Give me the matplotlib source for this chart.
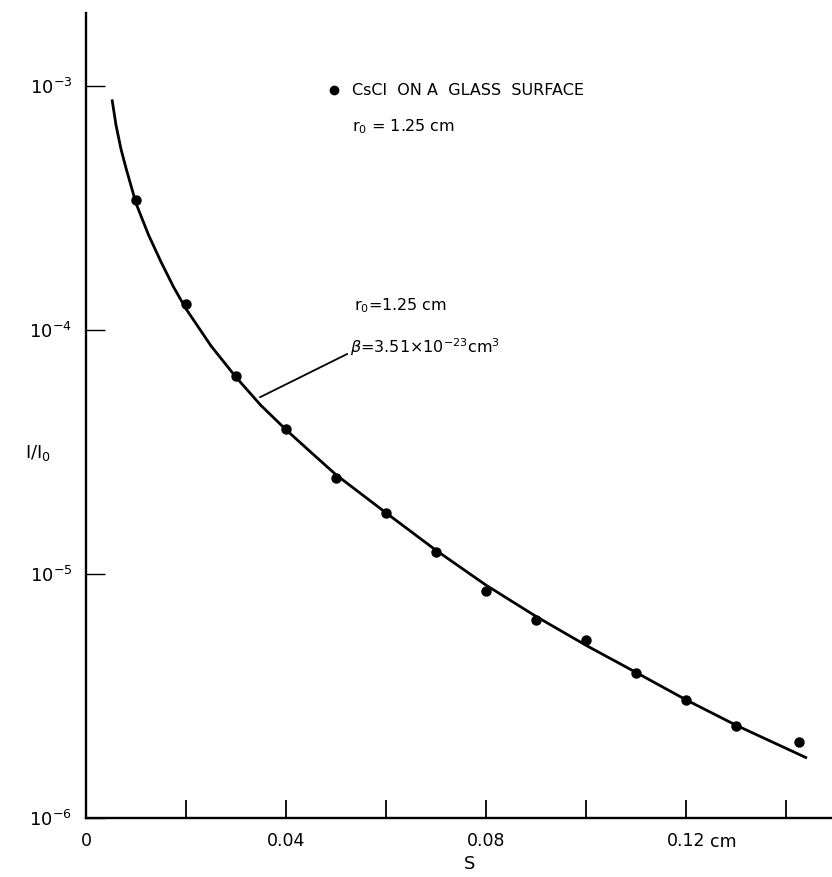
#!/usr/bin/env python3

import numpy as np
import matplotlib
matplotlib.use('Agg')
import matplotlib.pyplot as plt


# measured points (CsCl on a glass surface)
s_points = [0.010, 0.020, 0.030, 0.040, 0.050, 0.060, 0.070,
            0.080, 0.090, 0.100, 0.110, 0.120, 0.130, 0.1425]
i_points = [3.41e-4, 1.28e-4, 6.47e-5, 3.93e-5, 2.47e-5, 1.78e-5, 1.23e-5,
            8.5e-6, 6.47e-6, 5.37e-6, 3.93e-6, 3.05e-6, 2.38e-6, 2.05e-6]

# calculated curve
s_curve = [0.0052, 0.006, 0.007, 0.008, 0.010, 0.0125, 0.015, 0.0175,
           0.020, 0.025, 0.030, 0.035, 0.040, 0.045, 0.050, 0.060,
           0.070, 0.080, 0.090, 0.100, 0.110, 0.120, 0.130, 0.1442]
i_curve = [8.8e-4, 6.9e-4, 5.5e-4, 4.6e-4, 3.3e-4, 2.45e-4, 1.9e-4, 1.5e-4,
           1.22e-4, 8.6e-5, 6.4e-5, 4.9e-5, 3.9e-5, 3.15e-5, 2.55e-5, 1.78e-5,
           1.25e-5, 9.0e-6, 6.7e-6, 5.1e-6, 3.95e-6, 3.05e-6, 2.4e-6, 1.76e-6]

x_ticks = [0, 0.02, 0.04, 0.06, 0.08, 0.10, 0.12, 0.14]
x_ticklabels = ['0', '', '0.04', '', '0.08', '', '0.12', '']
y_ticks = [1e-6, 1e-5, 1e-4, 1e-3]
y_ticklabels = ['$10^{-6}$', '$10^{-5}$', '$10^{-4}$', '$10^{-3}$']

fig = plt.figure(figsize=(8.32, 8.77), dpi=100)
ax = fig.add_axes([0.1034, 0.0673, 0.8966, 0.9179])

ax.plot(s_curve, i_curve, color='black', lw=2.0, solid_capstyle='butt')
ax.plot(s_points, i_points, 'o', color='black', ms=6.5)

ax.set_yscale('log')
ax.set_xlim(0, 0.1492)
ax.set_ylim(1e-6, 1.99e-3)

for side in ['top', 'right']:
    ax.spines[side].set_visible(False)
for side in ['left', 'bottom']:
    ax.spines[side].set_linewidth(1.7)

ax.set_xticks(x_ticks)
ax.set_xticklabels(x_ticklabels, fontsize=12.5)
ax.set_yticks(y_ticks)
ax.set_yticklabels(y_ticklabels, fontsize=13)
ax.yaxis.set_minor_locator(plt.NullLocator())
ax.tick_params(axis='x', direction='in', length=13, width=1.3, pad=10)
ax.tick_params(axis='y', direction='in', length=14, width=1.0, pad=10)

ax.annotate('cm', xy=(0.12, 0), xycoords=('data', 'axes fraction'),
            xytext=(17, -11), textcoords='offset points',
            ha='left', va='top', fontsize=12.5)

fig.text(0.564, 0.004, 'S', fontsize=13, ha='center', va='bottom')
fig.text(0.046, 0.4835, 'I/I$_0$', fontsize=13, ha='center', va='center')

# legend-like note at top
ax.plot([0.0495], [9.6e-4], 'o', color='black', ms=6)
ax.text(0.0532, 9.6e-4, 'CsCl  ON A  GLASS  SURFACE', fontsize=11.5,
        va='center', ha='left')
ax.text(0.0532, 6.8e-4, 'r$_0$ = 1.25 cm', fontsize=11.5,
        va='center', ha='left')

# curve label with leader line
ax.text(0.0535, 1.26e-4, 'r$_0$=1.25 cm', fontsize=11.5,
        va='center', ha='left')
ax.annotate(r'$\beta$=3.51$\times$10$^{-23}$cm$^3$',
            xy=(0.0348, 5.3e-5), xytext=(0.0528, 8.5e-5),
            fontsize=11.5, va='center', ha='left',
            arrowprops=dict(arrowstyle='-', color='black', lw=1.3,
                            shrinkA=0, shrinkB=0, relpos=(0.0, 0.25)))

fig.savefig('out.png', dpi=100)
